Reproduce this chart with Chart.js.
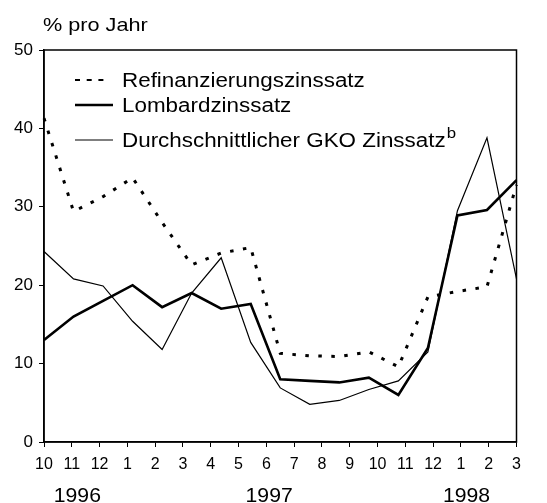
<!DOCTYPE html>
<html>
<head>
<meta charset="utf-8">
<script src="https://cdn.jsdelivr.net/npm/chart.js@4/dist/chart.umd.min.js"></script>
<style>
  body { margin: 0; background: #fff; }
  #wrap { width: 547px; height: 503px; position: relative; }
</style>
</head>
<body>
<div id="wrap"><canvas id="chart"></canvas></div>
<script>
// Monatswerte 10/1996 - 2/1998
var months = ['10/96', '11/96', '12/96', '1/97', '2/97', '3/97', '4/97', '5/97', '6/97',
              '7/97', '8/97', '9/97', '10/97', '11/97', '12/97', '1/98', '2/98'];
var refi = [41.3, 29.4, 31.3, 33.7, 28.0, 22.6, 24.1, 24.8, 11.3, 11.0, 10.9, 11.5, 9.6, 18.5, 19.2, 19.8, 32.8];
var lombard = [13.0, 16.0, 18.0, 20.0, 17.2, 19.0, 17.0, 17.6, 8.0, 7.8, 7.6, 8.2, 6.0, 12.0, 28.9, 29.6, 33.4];
var gko = [24.3, 20.8, 19.9, 15.4, 11.8, 19.0, 23.5, 12.7, 6.9, 4.8, 5.3, 6.7, 7.8, 11.5, 29.5, 38.8, 20.8];

// Achsenbeschriftung
var tickLabels = ['10', '11', '12', '1', '2', '3', '4', '5', '6', '7', '8', '9', '10', '11', '12', '1', '2', '3'];
var years = ['1996', '1997', '1998'];
var yearPos = [1.2, 8.1, 15.2]; // Position auf der Monatsachse

var FONT = '"Liberation Sans", Arial, sans-serif';

function stretchText(ctx, text, x, y, sx) {
    ctx.save();
    ctx.translate(x, y);
    ctx.scale(sx, 1);
    ctx.fillText(text, 0, 0);
    ctx.restore();
    return ctx.measureText(text).width * sx;
}

var extras = {
    id: 'extras',
    afterDraw: function (chart) {
        var ctx = chart.ctx;
        var a = chart.chartArea;
        ctx.save();
        // Rahmen
        ctx.strokeStyle = '#000';
        ctx.lineWidth = 1.5;
        ctx.strokeRect(a.left, a.top, a.right - a.left, a.bottom - a.top);

        ctx.fillStyle = '#000';
        ctx.textBaseline = 'alphabetic';
        ctx.textAlign = 'left';
        // Einheit
        ctx.font = '19px ' + FONT;
        stretchText(ctx, '% pro Jahr', 43, 31, 1.14);

        // Jahre
        var xt = chart.scales.xt;
        ctx.font = '20px ' + FONT;
        ctx.textAlign = 'center';
        for (var i = 0; i < years.length; i++) {
            stretchText(ctx, years[i], xt.getPixelForValue(yearPos[i]), 502, 1.06);
        }

        // Legende
        ctx.textAlign = 'left';
        var rows = [80, 105, 140];
        chart.data.datasets.forEach(function (ds, k) {
            var y = rows[k];
            ctx.save();
            ctx.strokeStyle = ds.borderColor;
            ctx.lineWidth = ds.borderDash ? 2 : ds.borderWidth;
            ctx.setLineDash(ds.borderDash ? [5, 6.7] : []);
            ctx.beginPath();
            ctx.moveTo(75, y);
            ctx.lineTo(ds.borderDash ? 104 : 113, y);
            ctx.stroke();
            ctx.restore();
            ctx.font = '20px ' + FONT;
            var w = stretchText(ctx, ds.label, 122, y + 7, 1.12);
            if (k === 2) {
                ctx.font = '15px ' + FONT;
                stretchText(ctx, 'b', 122 + w + 1, y - 2, 1.12);
            }
        });
        ctx.restore();
    }
};

var ctx = document.getElementById('chart').getContext('2d');
const chart = new Chart(ctx, {
    type: 'line',
    data: {
        labels: months,
        datasets: [{
            label: 'Refinanzierungszinssatz',
            data: refi,
            borderColor: '#000',
            borderWidth: 3,
            borderDash: [3.5, 9.5],
            pointRadius: 0,
            tension: 0
        }, {
            label: 'Lombardzinssatz',
            data: lombard,
            borderColor: '#000',
            borderWidth: 2.6,
            pointRadius: 0,
            tension: 0
        }, {
            label: 'Durchschnittlicher GKO Zinssatz',
            data: gko,
            borderColor: '#000',
            borderWidth: 1.2,
            pointRadius: 0,
            tension: 0
        }]
    },
    options: {
        responsive: true,
        maintainAspectRatio: false,
        animation: false,
        layout: { padding: { top: 50, right: 30.5, left: 0, bottom: 0 } },
        plugins: {
            legend: { display: false },
            tooltip: { enabled: false }
        },
        scales: {
            x: {
                type: 'category',
                display: false
            },
            xt: {
                type: 'linear',
                position: 'bottom',
                min: 0,
                max: 17,
                afterFit: function (s) { s.height = 61; },
                afterBuildTicks: function (s) {
                    s.ticks = tickLabels.map(function (t, i) { return { value: i }; });
                },
                ticks: {
                    autoSkip: false,
                    maxRotation: 0,
                    padding: 8,
                    color: '#000',
                    font: { family: FONT, size: 16 },
                    callback: function (v) { return tickLabels[v]; }
                },
                grid: {
                    drawOnChartArea: false,
                    drawTicks: true,
                    tickLength: 5,
                    color: '#000',
                    lineWidth: 1
                },
                border: { display: true, color: '#000', width: 1.5 }
            },
            y: {
                min: 0,
                max: 50,
                afterFit: function (s) { s.width = 44; },
                ticks: {
                    stepSize: 10,
                    padding: 6,
                    color: '#000',
                    font: { family: FONT, size: 17 }
                },
                grid: {
                    drawOnChartArea: false,
                    drawTicks: true,
                    tickLength: 5,
                    color: '#000',
                    lineWidth: 1
                },
                border: { display: true, color: '#000', width: 1.5 }
            }
        }
    },
    plugins: [extras]
});
</script>
</body>
</html>
